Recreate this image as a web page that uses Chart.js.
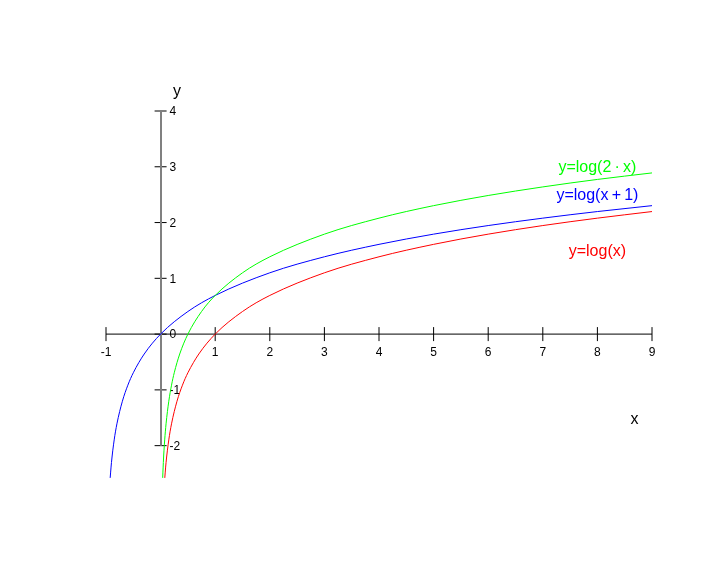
<!DOCTYPE html>
<html>
<head>
<meta charset="utf-8">
<script src="https://cdn.jsdelivr.net/npm/chart.js@4"></script>
<style>
  body { margin: 0; background: #ffffff; }
</style>
</head>
<body>
<canvas id="logChart" width="720" height="576"></canvas>
<script>
// Values
const xTicks = [-1, 0, 1, 2, 3, 4, 5, 6, 7, 8, 9];
const yTicks = [-2, -1, 0, 1, 2, 3, 4];

// y=log(x)
const logX = [0.07, 0.1, 0.15, 0.2, 0.3, 0.4, 0.5, 0.7, 1, 1.5, 2, 3, 4, 5, 6, 7, 8, 9];
const logY = [-2.659, -2.303, -1.897, -1.609, -1.204, -0.916, -0.693, -0.357, 0, 0.405, 0.693, 1.099, 1.386, 1.609, 1.792, 1.946, 2.079, 2.197];

// y=log(x+1)
const log1X = [-0.93, -0.9, -0.85, -0.8, -0.7, -0.6, -0.5, -0.3, 0, 0.5, 1, 2, 3, 4, 5, 6, 7, 8, 9];
const log1Y = [-2.659, -2.303, -1.897, -1.609, -1.204, -0.916, -0.693, -0.357, 0, 0.405, 0.693, 1.099, 1.386, 1.609, 1.792, 1.946, 2.079, 2.197, 2.303];

// y=log(2*x)
const log2X = [0.035, 0.05, 0.075, 0.1, 0.15, 0.2, 0.25, 0.35, 0.5, 0.75, 1, 1.5, 2, 3, 4, 5, 6, 7, 8, 9];
const log2Y = [-2.659, -2.303, -1.897, -1.609, -1.204, -0.916, -0.693, -0.357, 0, 0.405, 0.693, 1.099, 1.386, 1.792, 2.079, 2.303, 2.485, 2.639, 2.773, 2.890];

const seriesNames = ['y=log(2\u2009\u00b7\u2009x)', 'y=log(x\u2009+\u20091)', 'y=log(x)'];

const toPoints = (xs, ys) => xs.map((x, i) => ({ x: x, y: ys[i] }));

function lineSet(label, pts, color) {
    return {
        label: label,
        data: pts,
        borderColor: color,
        borderWidth: 1,
        pointRadius: 0,
        fill: false,
        cubicInterpolationMode: 'monotone',
    };
}

const FONT = '"Liberation Sans", Arial, sans-serif';

// Axes through the origin, ticks crossing the line, labels and titles
const axesPlugin = {
    id: 'originAxes',
    beforeDatasetsDraw(chart) {
        const c = chart.ctx;
        const xs = chart.scales.x;
        const ys = chart.scales.y;
        const x0 = xs.getPixelForValue(0);
        const y0 = ys.getPixelForValue(0);
        c.save();
        c.strokeStyle = '#000000';
        c.lineWidth = 1;
        c.beginPath();
        c.moveTo(xs.getPixelForValue(xTicks[0]), y0);
        c.lineTo(xs.getPixelForValue(xTicks[xTicks.length - 1]), y0);
        xTicks.forEach(v => {
            const px = xs.getPixelForValue(v);
            c.moveTo(px, y0 - 7);
            c.lineTo(px, y0 + 7);
        });
        yTicks.forEach(v => {
            const py = ys.getPixelForValue(v);
            c.moveTo(x0 - 6, py);
            c.lineTo(x0 + 6, py);
        });
        c.stroke();

        // the vertical axis reads as a softer grey line in the reference
        c.strokeStyle = '#808080';
        c.lineWidth = 2;
        c.beginPath();
        c.moveTo(Math.round(x0), ys.getPixelForValue(yTicks[0]));
        c.lineTo(Math.round(x0), ys.getPixelForValue(yTicks[yTicks.length - 1]));
        c.stroke();

        c.fillStyle = '#000000';
        c.font = '12px ' + FONT;
        c.textAlign = 'center';
        c.textBaseline = 'middle';
        xTicks.forEach(v => {
            if (v === 0) return;
            c.fillText(String(v), xs.getPixelForValue(v), y0 + 19);
        });
        c.textAlign = 'left';
        yTicks.forEach(v => {
            c.fillText(String(v), x0 + 9, ys.getPixelForValue(v) + 1);
        });

        c.font = '16px ' + FONT;
        c.textAlign = 'center';
        c.fillText('x', xs.getPixelForValue(8.68), ys.getPixelForValue(-1.53));
        c.fillText('y', xs.getPixelForValue(0.3), ys.getPixelForValue(4.35));
        c.restore();
    },
    afterDatasetsDraw(chart) {
        const c = chart.ctx;
        const xs = chart.scales.x;
        const ys = chart.scales.y;
        const anchors = [2.98, 2.48, 1.48];
        c.save();
        c.font = '16px ' + FONT;
        c.textAlign = 'center';
        c.textBaseline = 'middle';
        chart.data.datasets.forEach((ds, i) => {
            c.fillStyle = ds.borderColor;
            c.fillText(ds.label, xs.getPixelForValue(8), ys.getPixelForValue(anchors[i]));
        });
        c.restore();
    },
};

const ctx = document.getElementById('logChart').getContext('2d');
const logChart = new Chart(ctx, {
    type: 'line',
    data: {
        datasets: [
            lineSet(seriesNames[0], toPoints(log2X, log2Y), '#00ff00'),
            lineSet(seriesNames[1], toPoints(log1X, log1Y), '#0000ff'),
            lineSet(seriesNames[2], toPoints(logX, logY), '#ff0000'),
        ],
    },
    options: {
        responsive: false,
        animation: false,
        layout: {
            padding: { left: 106, right: 68, top: 111, bottom: 98 },
        },
        scales: {
            x: { type: 'linear', min: -1, max: 9, display: false },
            y: { type: 'linear', min: -2.58, max: 4, display: false },
        },
        plugins: {
            legend: { display: false },
            tooltip: { enabled: false },
        },
    },
    plugins: [axesPlugin],
});
</script>
</body>
</html>
